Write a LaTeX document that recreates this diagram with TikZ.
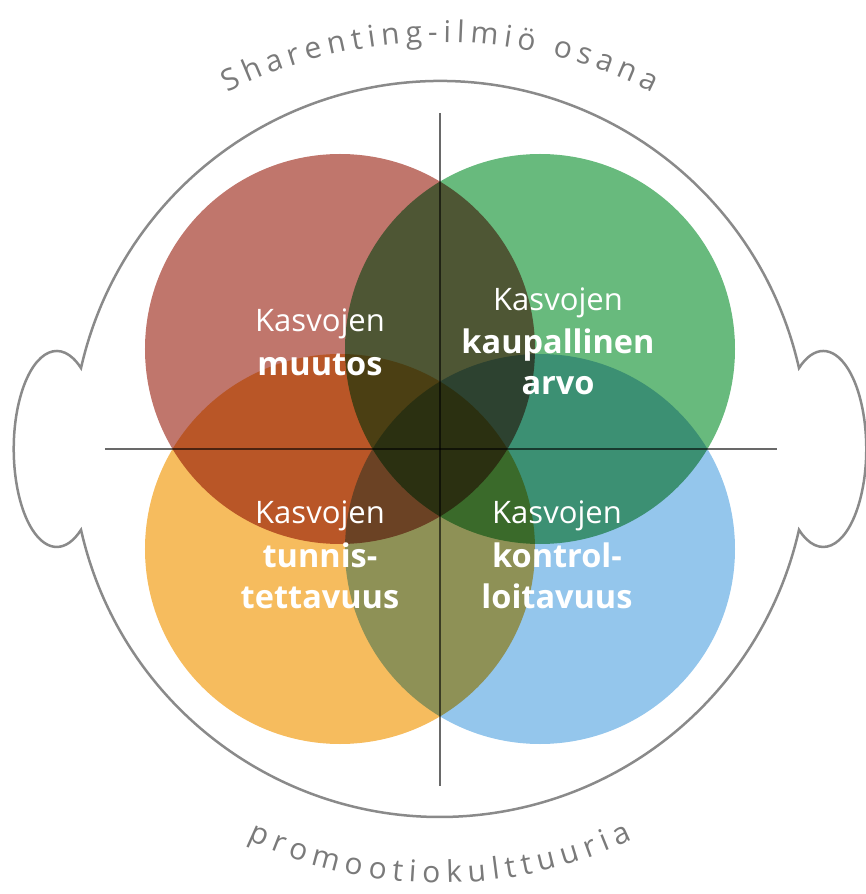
\documentclass[tikz,border=0pt]{standalone}
\usepackage{fontspec}
\setmainfont{Open Sans}
\usepackage{tikz}
\usetikzlibrary{decorations.text}
\definecolor{kasvored}{RGB}{192,118,108}
\definecolor{kasvogreen}{RGB}{104,186,125}
\definecolor{kasvoyellow}{RGB}{246,188,94}
\definecolor{kasvoblue}{RGB}{148,198,236}
\definecolor{headgray}{RGB}{138,138,138}
\definecolor{axisgray}{RGB}{105,105,105}
\definecolor{arcgray}{RGB}{122,122,122}
\newcommand{\kw}[1]{{\fontsize{32.5}{41}\selectfont\bfseries #1}}

\begin{document}
\begin{tikzpicture}[x=1pt,y=1pt,
    lbl/.style={text=white, align=center, anchor=base, inner sep=0, font=\fontsize{31}{41}\selectfont},
    headline/.style={draw=headgray, line width=2.5pt},
    axisline/.style={draw=axisgray, line width=1.6pt, blend mode=multiply}]
  \useasboundingbox (-440,-445) rectangle (426,449);
  \coordinate (center) at (0,0);
  \def\r{195}  % radius of the four circles
  \foreach \cx/\cy/\col in {-100/100/kasvored, 100/100/kasvogreen, -100/-100/kasvoyellow, 100/-100/kasvoblue} {
    \fill[\col, blend mode=multiply] (\cx,\cy) circle (\r);
  }
  % head with two ears
  \draw[headline] (12.7:368) arc[start angle=12.7, end angle=167.3, radius=368]
    arc[start angle=55.6, end angle=304.4, x radius=43, y radius=98]
    arc[start angle=192.7, end angle=347.3, radius=368]
    arc[start angle=-124.4, end angle=124.4, x radius=43, y radius=98] -- cycle;
  \coordinate (top) at (0,336);
  \coordinate (bottom) at (0,-337);
  \coordinate (left) at (-335,0);
  \coordinate (right) at (337,0);
  \draw[axisline] (top) -- (bottom);
  \draw[axisline] (left) -- (right);
  % base anchor = baseline of the last line
  \node[lbl] (muutos) at (-120,74) {Kasvojen\\[2pt]\kw{muutos}};
  \node[lbl] (arvo) at (118,54) {Kasvojen\\[2pt]\kw{kaupallinen}\\\kw{arvo}};
  \node[lbl] (tunnis) at (-120,-159) {Kasvojen\\[3pt]\kw{tunnis-}\\\kw{tettavuus}};
  \node[lbl] (kontrol) at (117,-159) {Kasvojen\\[3pt]\kw{kontrol-}\\\kw{loitavuus}};
  \path[decorate, decoration={text along path, text color=arcgray, text align=fit to path,
      text={|\fontsize{30}{32}\selectfont|Sharenting-ilmiö osana}}]
    (0,-67) ++(116.6:474) arc[start angle=116.6, end angle=63.4, radius=474];
  \path[decorate, decoration={text along path, text color=arcgray, text align=fit to path,
      text={|\fontsize{30}{32}\selectfont|promootiokulttuuria}}]
    (0,14) ++(244.6:448) arc[start angle=244.6, end angle=295.4, radius=448];
\end{tikzpicture}
\end{document}
